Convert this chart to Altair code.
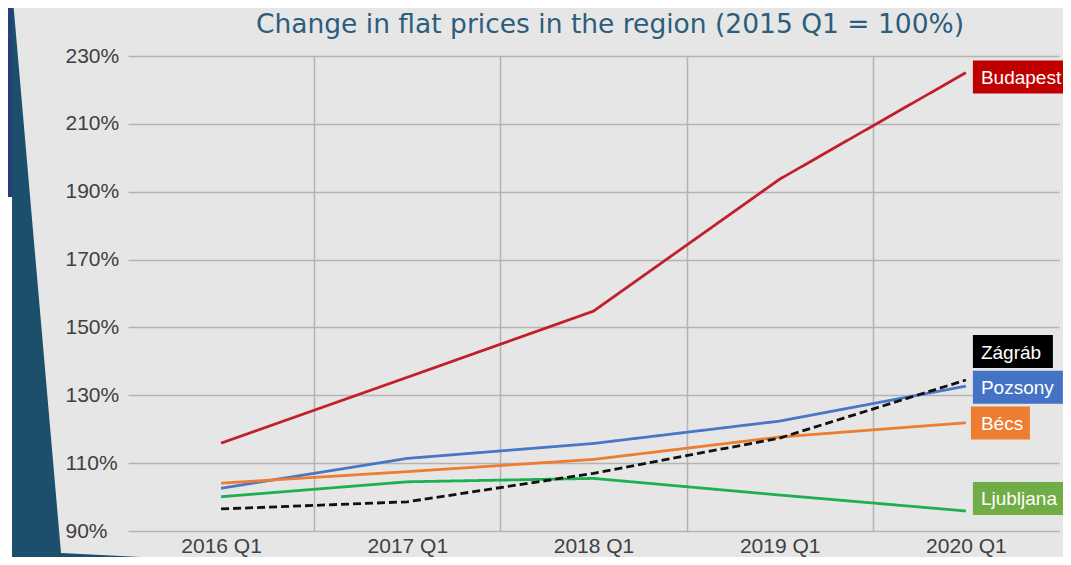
import json
import altair as alt
import pandas as pd

# ---- data ----
categories = ["2016 Q1", "2017 Q1", "2018 Q1", "2019 Q1", "2020 Q1"]
budapest = [115.9, 135.3, 154.8, 193.7, 225.1]
pozsony = [102.6, 111.4, 115.8, 122.4, 132.7]
becs = [104.1, 107.5, 111.1, 117.7, 121.9]
ljubljana = [100.1, 104.5, 105.5, 100.6, 95.9]
zagrab = [96.5, 98.6, 107.0, 117.4, 134.5]

series_names = ["Ljubljana", "Pozsony", "Bécs", "Zágráb", "Budapest"]
series_values = [ljubljana, pozsony, becs, zagrab, budapest]
line_colors = ["#1DB04F", "#4A76C6", "#ED7D31", "#111111", "#C0202A"]
line_dashes = [[1, 0], [1, 0], [1, 0], [8, 4], [1, 0]]

# end labels (placed like the original's moved data labels)
label_names = ["Budapest", "Zágráb", "Pozsony", "Bécs", "Ljubljana"]
label_levels = [223.8, 142.9, 132.4, 121.8, 99.6]
label_fill = ["#C00000", "#000000", "#4472C4", "#ED7D31", "#70AD47"]
label_box_w = [110, 80, 90, 59, 97]
label_box_x0 = [7, 7, 7, 5, 7]

title_text = "Change in flat prices in the region (2015 Q1 = 100%)"

rows = []
for name, vals in zip(series_names, series_values):
    for i, v in enumerate(vals):
        rows.append({"series": name, "idx": i, "cat": categories[i], "value": v})
df = pd.DataFrame(rows)

lab = pd.DataFrame({
    "name": label_names,
    "level": label_levels,
    "fill": label_fill,
    "idx": [len(categories) - 1] * len(label_names),
    "path": [f"M{x0},-16.5H{x0 + w}V16.5H{x0}Z" for x0, w in zip(label_box_x0, label_box_w)],
})

W, H = 931, 475
n = len(categories)
x_scale = alt.Scale(domain=[-0.5, n - 0.5], nice=False, zero=False)
y_scale = alt.Scale(domain=[90, 230], nice=False, zero=False)

cat_js = json.dumps(categories)
x_axis = alt.Axis(
    values=[i * 0.5 for i in range(0, 2 * n - 1)],
    labelExpr=f"datum.value % 1 === 0 ? {cat_js}[datum.value] : ''",
    title=None, ticks=False, tickSize=0, domain=False,
    grid=True, gridColor="#B3B3B3", gridWidth=1.5,
    gridOpacity={"condition": {"test": "datum.value % 1 !== 0", "value": 1}, "value": 0},
    labelFont="Liberation Sans", labelFontSize=21, labelColor="#404040",
    labelPadding=4, labelOverlap=False, labelFlush=False,
)
y_axis = alt.Axis(
    values=list(range(90, 231, 20)),
    labelExpr="datum.value + '%'",
    title=None, ticks=False, tickSize=0, domain=False,
    grid=True, gridColor="#B3B3B3", gridWidth=1.5,
    labelFont="Liberation Sans", labelFontSize=21, labelColor="#404040",
    labelAlign="left", labelPadding=63, labelBaseline="middle",
)

lines = alt.Chart(df).mark_line(strokeWidth=2.8).encode(
    x=alt.X("idx:Q", scale=x_scale, axis=x_axis),
    y=alt.Y("value:Q", scale=y_scale, axis=y_axis),
    color=alt.Color("series:N", scale=alt.Scale(domain=series_names, range=line_colors), legend=None),
    strokeDash=alt.StrokeDash("series:N", scale=alt.Scale(domain=series_names, range=line_dashes), legend=None),
    order=alt.Order("idx:Q"),
)

boxes = alt.Chart(lab).mark_point(filled=True, opacity=1, strokeWidth=0, size=4).encode(
    x=alt.X("idx:Q", scale=x_scale),
    y=alt.Y("level:Q", scale=y_scale),
    shape=alt.Shape("path:N", scale=None, legend=None),
    fill=alt.Fill("fill:N", scale=None, legend=None),
)

texts = alt.Chart(lab).mark_text(
    align="left", baseline="middle", dx=15, dy=1, color="white",
    font="Liberation Sans", fontSize=19,
).encode(
    x=alt.X("idx:Q", scale=x_scale),
    y=alt.Y("level:Q", scale=y_scale),
    text="name:N",
)

one = pd.DataFrame({"k": [0]})

# decorative slide background shapes (pixel paths relative to the plot origin)
teal_path = "M-116,-60L-115,-56L-67,497L172,509L172,530L-116,530Z"
blue_path = "M-140,-60H-116V141H-140Z"
white_path = "M-140,141H-116V530H-140Z"


def deco(path, color):
    return alt.Chart(one).mark_point(filled=True, opacity=1, strokeWidth=0, size=4).encode(
        x=alt.value(0), y=alt.value(0), shape=alt.value(path), fill=alt.value(color)
    )


title = alt.Chart(one).mark_text(
    text=title_text, align="center", baseline="alphabetic",
    font="DejaVu Sans", fontWeight=400, fontSize=26.5, color="#2C5D7C",
).encode(x=alt.value(482), y=alt.value(-23))

chart = alt.layer(
    deco(teal_path, "#1B4F6B"), deco(blue_path, "#263F7A"), deco(white_path, "#FFFFFF"),
    lines, boxes, texts, title,
).properties(
    width=W, height=H,
    background="#E6E6E6",
    autosize=alt.AutoSizeParams(type="none"),
    padding={"left": 120, "top": 48, "right": 4, "bottom": 26},
).configure_view(strokeWidth=0)

chart.save("out.html", embed_options={"renderer": "svg", "actions": False})
